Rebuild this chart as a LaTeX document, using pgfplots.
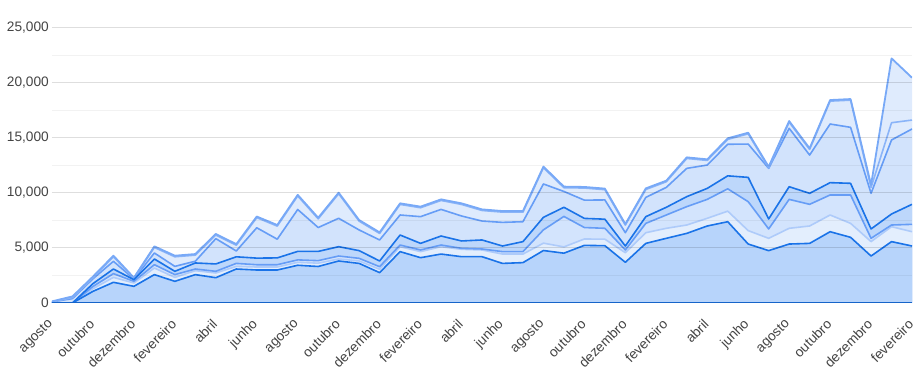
\documentclass[border=0pt]{standalone}
\usepackage{fontspec}
\setmainfont{Liberation Sans}
\usepackage{pgfplots}
\pgfplotsset{compat=1.18}
\usepackage{pgfplotstable}

\definecolor{dk}{HTML}{1A73E8}
\definecolor{md}{HTML}{669DF6}
\definecolor{lt}{HTML}{AECBFA}
\definecolor{ll}{HTML}{8AB4F8}
\definecolor{tp}{HTML}{78A9F7}
\definecolor{f7}{HTML}{DFEBFD}
\definecolor{f5}{HTML}{D2E3FC}
\definecolor{f4}{HTML}{BDD7FB}
\definecolor{f3}{HTML}{D3E4FD}
\definecolor{f2}{HTML}{E3EEFD}
\definecolor{f1}{HTML}{B7D4FB}
\definecolor{txt}{HTML}{444444}

\pgfplotstableread{
i  s1   s2   s3    s4    s5    s6    s7
0  0    0    0     0     100   100   150
1  0    0    0     0     400   500   600
2  1060 1300 1500  1760  2200  2300  2400
3  1880 2330 2670  3090  3790  4200  4300
4  1515 1820 1970  2120  2180  2250  2300
5  2580 3180 3480  4000  4545  5050  5150
6  1970 2330 2580  2880  3330  4200  4300
7  2580 2940 3090  3640  3800  4350  4450
8  2300 2730 2880  3550  5850  6180  6280
9  3090 3330 3600  4200  4730  5250  5350
10 3000 3270 3480  4080  6840  7760  7860
11 3000 3270 3480  4100  5800  6990  7090
12 3430 3700 3920  4690  8500  9730  9830
13 3320 3620 3850  4690  6860  7650  7750
14 3820 4000 4270  5120  7700  9930  10030
15 3600 3820 4060  4760  6640  7440  7540
16 2760 3060 3300  3820  5730  6320  6420
17 4670 5120 5270  6180  8000  8960  9060
18 4120 4670 4820  5420  7850  8660  8760
19 4450 5120 5270  6090  8510  9320  9420
20 4210 4880 4970  5640  7910  8960  9060
21 4210 4820 4910  5730  7450  8410  8510
22 3600 4450 4670  5180  7330  8260  8360
23 3670 4450 4670  5580  7390  8260  8360
24 4770 5440 6650  7790  10820 12300 12400
25 4530 5100 7870  8700  10140 10480 10580
26 5240 5820 6860  7690  9350  10450 10550
27 5210 5800 6790  7620  9370  10300 10400
28 3700 4575 4820  5180  6390  7080  7180
29 5420 6390 7240  7850  9600  10320 10420
30 5880 6790 8000  8700  10510 11020 11120
31 6330 7090 8760  9670  12240 13140 13240
32 7000 7700 9420  10420 12540 12960 13060
33 7390 8350 10380 11560 14430 14870 14970
34 5360 6580 9210  11420 14450 15380 15480
35 4760 5880 6730  7640  12240 12290 12390
36 5360 6790 9420  10570 15880 16440 16540
37 5420 7000 8970  9970  13450 13960 14060
38 6480 8000 9820  10940 16270 18350 18450
39 5970 7240 9820  10880 15970 18440 18540
40 4270 5580 5880  6730  9970  10500 10730
41 5580 6940 7090  8090  14820 16390 22240
42 5180 6480 7150  8970  15820 16630 20480
}\data

\begin{document}
\begin{tikzpicture}
\begin{axis}[
  name=ax,
  scale only axis,
  width=860pt, height=275pt,
  xmin=0, xmax=42, ymin=0, ymax=25000,
  axis on top,
  axis line style={draw=none},
  major tick length=0pt, minor tick length=0pt,
  xtick={0,2,...,42},
  xticklabels={agosto,outubro,dezembro,fevereiro,abril,junho,agosto,outubro,dezembro,fevereiro,abril,junho,agosto,outubro,dezembro,fevereiro,abril,junho,agosto,outubro,dezembro,fevereiro},
  ytick={0,5000,...,25000},
  minor y tick num=1,
  ymajorgrids, yminorgrids,
  major grid style={draw=black, draw opacity=0.13, line width=1pt},
  minor grid style={draw=black, draw opacity=0.05, line width=1pt},
  scaled y ticks=false,
  /pgf/number format/.cd, 1000 sep={,}, assume math mode=true,
  /pgfplots/.cd,
  tick label style={font=\fontsize{13.7}{16}\selectfont, text=txt},
  yticklabel style={anchor=east, inner sep=0pt, xshift=-3pt},
  xticklabel style={yshift=-19pt, xshift=-1pt, rotate=45, anchor=east, inner sep=0pt},
]
\addplot[draw=none, fill=f7] table[x=i, y=s7] {\data} \closedcycle;
\addplot[draw=none, fill=f7] table[x=i, y=s6] {\data} \closedcycle;
\addplot[draw=none, fill=f5] table[x=i, y=s5] {\data} \closedcycle;
\addplot[draw=none, fill=f4] table[x=i, y=s4] {\data} \closedcycle;
\addplot[draw=none, fill=f3] table[x=i, y=s3] {\data} \closedcycle;
\addplot[draw=none, fill=f2] table[x=i, y=s2] {\data} \closedcycle;
\addplot[draw=none, fill=f1] table[x=i, y=s1] {\data} \closedcycle;

\addplot[lt, line width=1.6pt, line join=round] table[x=i, y=s2] {\data};
\addplot[md, line width=1.6pt, line join=round] table[x=i, y=s3] {\data};
\addplot[md, line width=1.6pt, line join=round] table[x=i, y=s5] {\data};
\addplot[ll, line width=1.6pt, line join=round] table[x=i, y=s6] {\data};
\addplot[tp, line width=1.8pt, line join=round] table[x=i, y=s7] {\data};
\addplot[dk, line width=1.6pt, line join=round] table[x=i, y=s4] {\data};
\addplot[dk, line width=1.6pt, line join=round] table[x=i, y=s1] {\data};
\addplot[dk, line width=1.6pt] coordinates {(0,0) (42,0)};
\end{axis}
\pgfresetboundingbox
\path ([xshift=-52pt,yshift=-84pt]ax.south west) rectangle ([xshift=9pt,yshift=28pt]ax.north east);
\end{tikzpicture}
\end{document}
